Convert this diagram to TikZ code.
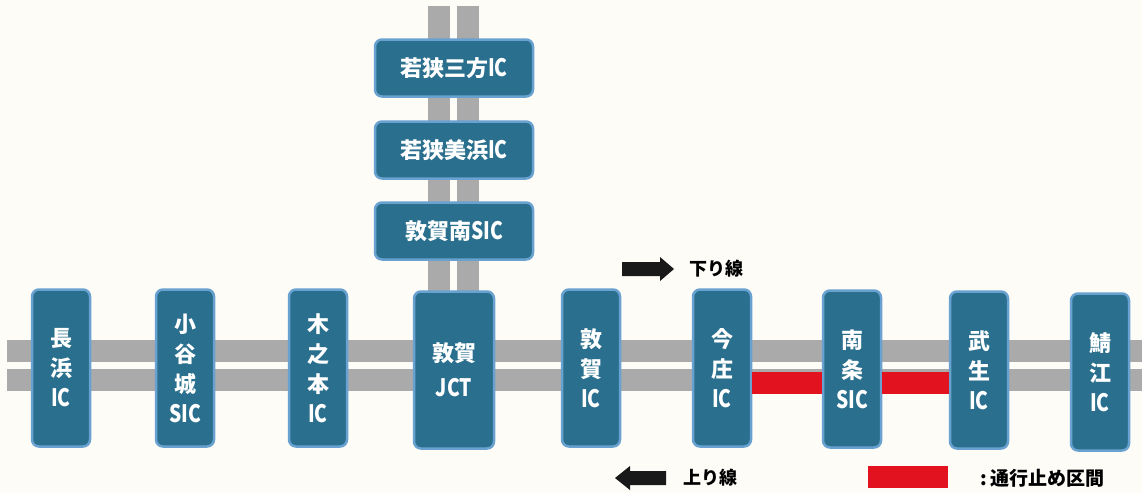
\documentclass[tikz,border=0pt]{standalone}
\usepackage{fontspec}
\setmainfont{Noto Sans CJK JP}
\usepackage{graphicx}
\definecolor{boxfill}{RGB}{42,111,141}
\definecolor{boxedge}{RGB}{105,162,208}
\definecolor{roadgray}{RGB}{170,170,170}
\definecolor{closedred}{RGB}{226,18,30}
\definecolor{paper}{RGB}{253,252,247}
\definecolor{arrowblack}{RGB}{25,25,25}
\newcommand\latn[1]{\scalebox{0.8}[1]{\fontsize{24}{24}\selectfont #1}}
\begin{document}
\begin{tikzpicture}[x=1pt,y=-1pt,
  icbox/.style={draw=boxedge, line width=2.5pt, fill=boxfill, rounded corners=7pt,
    text=white, font=\fontsize{22}{30}\selectfont\bfseries, align=center,
    inner sep=0pt, minimum width=58pt, minimum height=157pt},
  jctbox/.style={icbox, minimum width=80pt, font=\fontsize{22}{35}\selectfont\bfseries},
  topbox/.style={icbox, minimum width=158pt, minimum height=57pt},
  roadline/.style={draw=roadgray, line width=22pt},
  closedline/.style={draw=closedred, line width=22pt},
  legendtext/.style={font=\fontsize{18}{18}\selectfont\bfseries, text=black, inner sep=0pt, anchor=west},
  legendarrow/.style={fill=arrowblack}]
\useasboundingbox[fill=paper] (0,0) rectangle (1142,493);

% road end points
\coordinate (hwL1) at (7,351);
\coordinate (hwR1) at (1142,351);
\coordinate (hwL2) at (7,380);
\coordinate (hwR2) at (1142,380);
\coordinate (vT1) at (439,6);
\coordinate (vB1) at (439,300);
\coordinate (vT2) at (468,6);
\coordinate (vB2) at (468,300);

% roads
\draw[roadline] (hwL1) -- (hwR1);
\draw[roadline] (hwL2) -- (hwR2);
\draw[roadline] (vT1) -- (vB1);
\draw[roadline] (vT2) -- (vB2);

% branch boxes
\node[topbox] (mikata) at (454,68) {若狭三方\latn{IC}};
\node[topbox] (mihama) at (454,150) {若狭美浜\latn{IC}};
\node[topbox] (tsurugaminami) at (454,231) {敦賀南\latn{SIC}};

% main line boxes
\node[icbox] (nagahama) at (61,368) {長\\浜\\\latn{IC}};
\node[icbox] (odanijo) at (185,368) {小\\谷\\城\\\latn{SIC}};
\node[icbox] (kinomoto) at (318,368) {木\\之\\本\\\latn{IC}};
\node[jctbox] (jct) at (454,370) {敦賀\\\latn{JCT}};
\node[icbox] (tsurugaic) at (591,368) {敦\\賀\\\latn{IC}};
\node[icbox] (imajo) at (722,368) {今\\庄\\\latn{IC}};
\node[icbox] (nanjo) at (852,369) {南\\条\\\latn{SIC}};
\node[icbox] (takefu) at (979,370) {武\\生\\\latn{IC}};
\node[icbox] (sabae) at (1100,372) {鯖\\江\\\latn{IC}};

% closed sections (lower carriageway)
\coordinate (redy) at (0,383);
\draw[closedline] (imajo.east |- redy) -- (nanjo.west |- redy);
\draw[closedline] (nanjo.east |- redy) -- (takefu.west |- redy);

% legend: down line
\fill[legendarrow] (622,262) -- (660,262) -- (660,257) -- (674,269) -- (660,281) -- (660,276) -- (622,276) -- cycle;
\node[legendtext] (kudari) at (689,269) {下り線};

% legend: up line
\fill[legendarrow] (666,471) -- (630,471) -- (630,466) -- (615,478) -- (630,490) -- (630,485) -- (666,485) -- cycle;
\node[legendtext] (nobori) at (683,478) {上り線};

% legend: closed
\node[fill=closedred, minimum width=80pt, minimum height=22pt, inner sep=0pt] (closedkey) at (908,477) {};
\node[legendtext, font=\fontsize{19}{19}\selectfont\bfseries] (closedlabel) at (980,478) {:\,通行止め区間};
\end{tikzpicture}
\end{document}
